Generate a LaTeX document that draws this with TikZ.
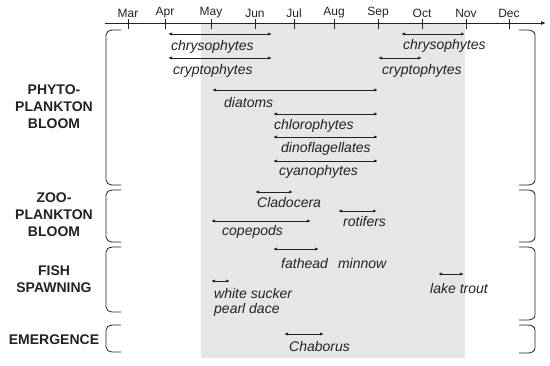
\documentclass[tikz,border=0pt]{standalone}
\usepackage{fontspec}
\setmainfont{Liberation Sans}
\usetikzlibrary{arrows.meta}
\definecolor{bggray}{HTML}{E6E6E6}
\definecolor{ink}{HTML}{222222}
\tikzset{
  span/.style={draw=ink, line width=0.8pt, {Latex[length=4pt,width=3.2pt]}-{Latex[length=4pt,width=3.2pt]}},
  lab/.style={anchor=west, inner sep=0pt, text=ink, font=\fontsize{14}{16}\selectfont\itshape},
  grp/.style={align=center, inner sep=0pt, text=ink, font=\fontsize{14}{17}\selectfont\bfseries},
  month/.style={inner sep=0pt, text=ink, font=\fontsize{12}{13}\selectfont},
  brace/.style={draw=ink, line width=0.8pt},
}
\begin{document}
\begin{tikzpicture}[x=1pt,y=-1pt]
\useasboundingbox (0,0) rectangle (550,365);
\fill[bggray] (201,23) rectangle (465,358);
% axis
\draw[draw=ink, line width=0.8pt, -{Latex[length=5pt,width=4pt]}] (105,23) -- (546,23);
\foreach \x/\m in {128/Mar,165/Apr,211/May,255/Jun,294/Jul,334/Aug,378/Sep,422/Oct,466/Nov,509/Dec}{
  \draw[draw=ink, line width=0.8pt] (\x,19) -- (\x,29);
  \node[month] (m\m) at (\x,13) {\m};
}
% left braces
\foreach \t/\b in {30/185,190/242,247/312,325/352}{
  \draw[brace] (121,\t) -- (112,\t) to[out=180,in=90] (106,\t+5) -- (106,\b-5) to[out=-90,in=180] (112,\b) -- (121,\b);
}
% right braces
\foreach \t/\b in {30/185,190/242,247/320,325/353}{
  \draw[brace] (519,\t) -- (528,\t) to[out=0,in=90] (535,\t+5) -- (535,\b-5) to[out=-90,in=0] (528,\b) -- (519,\b);
}
% group labels
\node[grp] (phyto) at (54,107) {PHYTO-\\PLANKTON\\BLOOM};
\node[grp] (zoo) at (54,215) {ZOO-\\PLANKTON\\BLOOM};
\node[grp] (fish) at (54,279) {FISH\\SPAWNING};
\node[grp] (emer) at (54,340) {EMERGENCE};
% phytoplankton
\draw[span] (168,34) -- (272,34);
\node[lab] (chr1) at (171,47) {chrysophytes};
\draw[span] (168,58) -- (272,58);
\node[lab] (cry1) at (173,71) {cryptophytes};
\draw[span] (401,34) -- (465,34);
\node[lab] (chr2) at (403,46) {chrysophytes};
\draw[span] (378,58) -- (422,58);
\node[lab] (cry2) at (382,71) {cryptophytes};
\draw[span] (212,90) -- (378,90);
\node[lab] (dia) at (224,102) {diatoms};
\draw[span] (273,114) -- (378,114);
\node[lab] (chl) at (274,126) {chlorophytes};
\draw[span] (273,137) -- (378,137);
\node[lab] (din) at (281,149) {dinoflagellates};
\draw[span] (273,161) -- (378,161);
\node[lab] (cya) at (279,172) {cyanophytes};
% zooplankton
\draw[span] (255,192) -- (293,192);
\node[lab] (cla) at (257,202) {Cladocera};
\draw[span] (211,221) -- (311,221);
\node[lab] (cop) at (222,232) {copepods};
\draw[span] (338,211) -- (377,211);
\node[lab] (rot) at (343,221) {rotifers};
% fish
\draw[span] (273,249) -- (319,249);
\node[lab] (fat) at (281,263) {fathead\hspace{0.45em} minnow};
\draw[span] (211,281) -- (230,281);
\node[lab] (whi) at (214,293) {white sucker};
\node[lab] (pea) at (214,310) {pearl dace};
\draw[span] (438,274) -- (464,274);
\node[lab] (lak) at (430,288) {lake trout};
% emergence
\draw[span] (284,334) -- (324,334);
\node[lab] (cha) at (289,346) {Chaborus};
\end{tikzpicture}
\end{document}
